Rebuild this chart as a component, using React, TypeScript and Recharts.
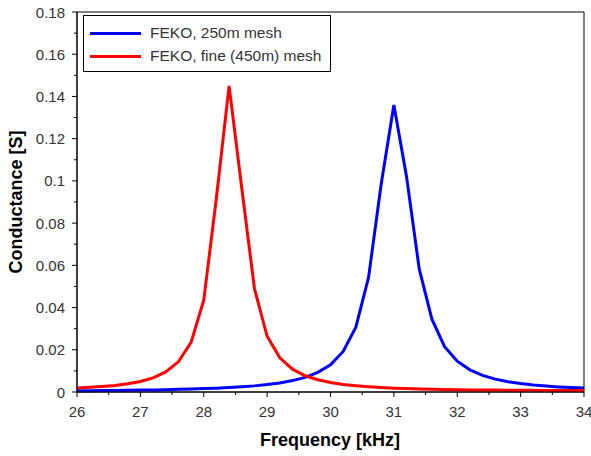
import { Legend, Line, LineChart, ReferenceArea, XAxis, YAxis } from "recharts";

// frequency samples, kHz
const freq = [
	26.0, 26.2, 26.4, 26.6, 26.8, 27.0, 27.2, 27.4, 27.6, 27.8, 28.0, 28.2, 28.4, 28.6, 28.8, 29.0, 29.2, 29.4, 29.6, 29.8,
	30.0, 30.2, 30.4, 30.6, 30.8, 31.0, 31.2, 31.4, 31.6, 31.8, 32.0, 32.2, 32.4, 32.6, 32.8, 33.0, 33.2, 33.4, 33.6, 33.8,
	34.0,
];

// FEKO, 250m mesh
const coarse = [
	0.0006, 0.00065, 0.0007, 0.00075, 0.0008, 0.0009, 0.001, 0.0011, 0.00125, 0.0014, 0.0016, 0.0018, 0.0021, 0.0025,
	0.0029, 0.0035, 0.0043, 0.0054, 0.0069, 0.0093, 0.0129, 0.0192, 0.0307, 0.0542, 0.0985, 0.136, 0.102, 0.0583, 0.0345,
	0.0215, 0.0146, 0.0105, 0.0079, 0.0061, 0.0049, 0.004, 0.0033, 0.0028, 0.0024, 0.0021, 0.0019,
];

// FEKO, fine (450m) mesh
const fine = [
	0.0019, 0.0022, 0.0026, 0.0031, 0.0039, 0.005, 0.0067, 0.0095, 0.0143, 0.0235, 0.0435, 0.092, 0.145, 0.0965, 0.049,
	0.0264, 0.0162, 0.0108, 0.0077, 0.0058, 0.0045, 0.0036, 0.003, 0.0025, 0.0021, 0.0018, 0.0016, 0.0014, 0.0013, 0.0012,
	0.0011, 0.001, 0.00095, 0.0009, 0.00085, 0.0008, 0.00078, 0.00075, 0.00072, 0.0007, 0.00068,
];

const xTicks = [26, 26.5, 27, 27.5, 28, 28.5, 29, 29.5, 30, 30.5, 31, 31.5, 32, 32.5, 33, 33.5, 34];
const yTicks = [0, 0.01, 0.02, 0.03, 0.04, 0.05, 0.06, 0.07, 0.08, 0.09, 0.1, 0.11, 0.12, 0.13, 0.14, 0.15, 0.16, 0.17, 0.18];

const series = [
	{ key: "coarse", name: "FEKO, 250m mesh", color: "#0000ff" },
	{ key: "fine", name: "FEKO, fine (450m) mesh", color: "#ff0000" },
];

const data = freq.map((f, i) => ({ f, coarse: coarse[i], fine: fine[i] }));

const FONT = "'Liberation Sans', Arial, sans-serif";
const AXIS = "#000";
const TEXT = "#333";

const XTick = (props: any) => {
	const { x, y, payload } = props;
	const major = Number.isInteger(payload.value);
	return (
		<g>
			<line x1={x} y1={y} x2={x} y2={y + (major ? 5 : 3)} stroke={AXIS} />
			{major && (
				<text x={x} y={y + 25} textAnchor="middle" fontSize={15} fill={TEXT} fontFamily={FONT}>
					{payload.value}
				</text>
			)}
		</g>
	);
};

const YTick = (props: any) => {
	const { x, y, payload, index } = props;
	const major = index % 2 === 0;
	const label = String(Number(payload.value.toFixed(2)));
	return (
		<g>
			<line x1={x} y1={y} x2={x - (major ? 5 : 3)} y2={y} stroke={AXIS} />
			{major && (
				<text x={x - 12} y={y + 5.5} textAnchor="end" fontSize={15} fill={TEXT} fontFamily={FONT}>
					{label}
				</text>
			)}
		</g>
	);
};

const LegendBox = () => (
	<div
		style={{
			width: 246,
			height: 55,
			border: "1px solid #000",
			background: "#fff",
			fontFamily: FONT,
			fontSize: 15.5,
			color: TEXT,
			position: "relative",
		}}
	>
		{series.map((s, i) => (
			<div key={s.key} style={{ position: "absolute", left: 0, top: 8 + i * 23, height: 18, display: "flex", alignItems: "center" }}>
				<div style={{ marginLeft: 6, width: 51, height: 3, background: s.color }} />
				<span style={{ marginLeft: 9, whiteSpace: "nowrap" }}>{s.name}</span>
			</div>
		))}
	</div>
);

export default function App() {
	return (
		<div style={{ position: "absolute", left: 0, top: 0, width: 591, height: 456, background: "#fff" }}>
			<LineChart width={591} height={456} data={data} margin={{ top: 12, right: 7, left: 0, bottom: 0 }}>
				<XAxis
					dataKey="f"
					type="number"
					domain={[26, 34]}
					ticks={xTicks}
					interval={0}
					tickSize={0}
					tickMargin={0}
					tick={<XTick />}
					axisLine={{ stroke: AXIS }}
					height={64}
					label={{
						content: () => (
							<text x={330} y={446} textAnchor="middle" fontSize={18} fontWeight="bold" fill="#000" fontFamily={FONT}>
								Frequency [kHz]
							</text>
						),
					}}
				/>
				<YAxis
					type="number"
					domain={[0, 0.18]}
					ticks={yTicks}
					interval={0}
					tickSize={0}
					tickMargin={0}
					tick={<YTick />}
					axisLine={{ stroke: AXIS }}
					width={77}
					label={{
						content: () => (
							<text
								x={16}
								y={202}
								transform="rotate(-90 16 202)"
								textAnchor="middle"
								dominantBaseline="central"
								fontSize={18}
								fontWeight="bold"
								fill="#000"
								fontFamily={FONT}
							>
								Conductance [S]
							</text>
						),
					}}
				/>
				<ReferenceArea x1={26} x2={34} y1={0} y2={0.18} fill="none" stroke={AXIS} strokeWidth={1} />
				{series.map((s) => (
					<Line
						key={s.key}
						type="linear"
						dataKey={s.key}
						name={s.name}
						stroke={s.color}
						strokeWidth={3}
						dot={false}
						isAnimationActive={false}
					/>
				))}
				<Legend
					layout="vertical"
					align="center"
					verticalAlign="middle"
					content={<LegendBox />}
					wrapperStyle={{ left: 83, top: 15, width: 248, height: 57 }}
				/>
			</LineChart>
		</div>
	);
}
